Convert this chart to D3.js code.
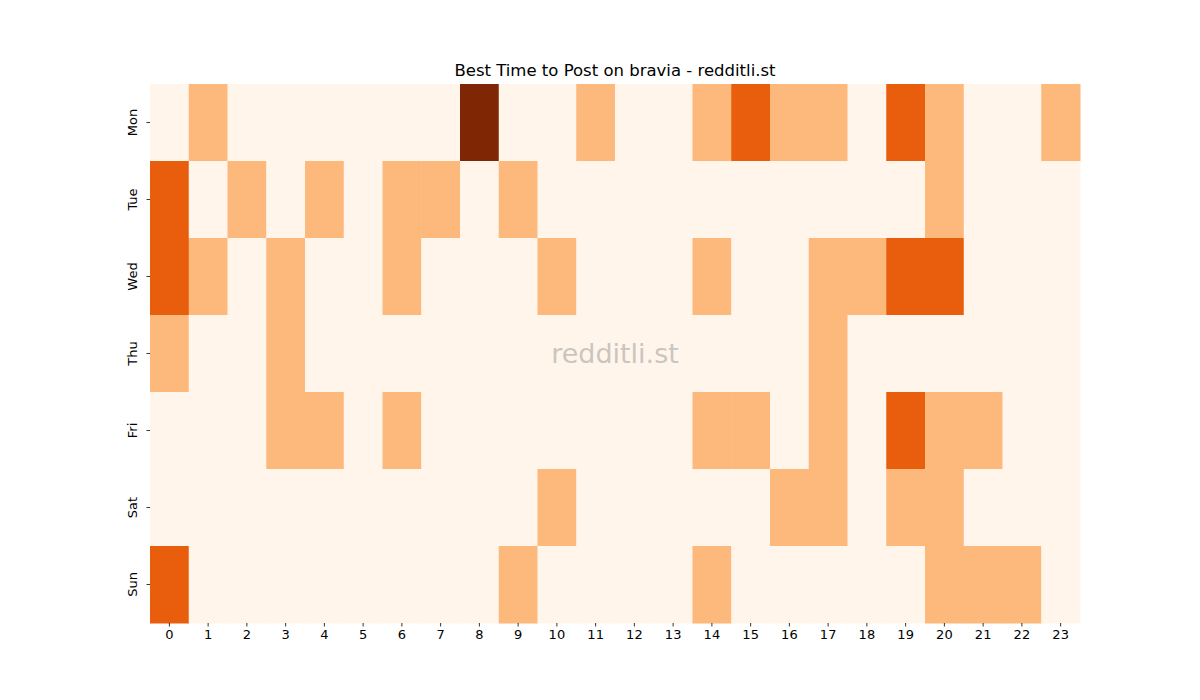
<!DOCTYPE html>
<html>
<head>
<meta charset="utf-8">
<script src="https://cdn.jsdelivr.net/npm/d3@7"></script>
<style>
  body { margin: 0; background: #fff; }
  text { font-family: "DejaVu Sans", sans-serif; }
</style>
</head>
<body>
<div id="chart"></div>
<script>
// chart data
var days = ['Mon', 'Tue', 'Wed', 'Thu', 'Fri', 'Sat', 'Sun'];
var hours = d3.range(24);
var mon = [0,1,0,0,0,0,0,0,3,0,0,1,0,0,1,2,1,1,0,2,1,0,0,1];
var tue = [2,0,1,0,1,0,1,1,0,1,0,0,0,0,0,0,0,0,0,0,1,0,0,0];
var wed = [2,1,0,1,0,0,1,0,0,0,1,0,0,0,1,0,0,1,1,2,2,0,0,0];
var thu = [1,0,0,1,0,0,0,0,0,0,0,0,0,0,0,0,0,1,0,0,0,0,0,0];
var fri = [0,0,0,1,1,0,1,0,0,0,0,0,0,0,1,1,0,1,0,2,1,1,0,0];
var sat = [0,0,0,0,0,0,0,0,0,0,1,0,0,0,0,0,1,1,0,1,1,0,0,0];
var sun = [2,0,0,0,0,0,0,0,0,1,0,0,0,0,1,0,0,0,0,0,1,1,1,0];
var counts = [mon, tue, wed, thu, fri, sat, sun];
var palette = ['#fff5eb', '#fdb87c', '#e95e0d', '#7f2704'];

var w = 1200, h = 700;
var m = {top: 84, right: 120, bottom: 77, left: 150};

var svg = d3.select('#chart').append('svg')
  .attr('width', w)
  .attr('height', h);

var x = d3.scaleBand().domain(hours).range([m.left, w - m.right]);
var y = d3.scaleBand().domain(days).range([m.top, h - m.bottom]);
var color = d3.scaleOrdinal().domain([0, 1, 2, 3]).range(palette);

// flatten into cells
var cells = [];
counts.forEach(function(row, i) {
  row.forEach(function(v, j) {
    cells.push({day: days[i], hour: hours[j], value: v});
  });
});

svg.append('g').selectAll('rect')
  .data(cells)
  .enter().append('rect')
  .attr('x', function(d) { return x(d.hour); })
  .attr('y', function(d) { return y(d.day); })
  .attr('width', x.bandwidth() + 0.5)
  .attr('height', y.bandwidth() + 0.5)
  .style('fill', function(d) { return color(d.value); });

// axes
var xAxis = svg.append('g')
  .attr('transform', 'translate(0,' + (h - m.bottom) + ')')
  .call(d3.axisBottom(x).tickSize(3.5).tickPadding(3.5));
var yAxis = svg.append('g')
  .attr('transform', 'translate(' + m.left + ',0)')
  .call(d3.axisLeft(y).tickSize(3.5).tickPadding(3.5));

svg.selectAll('.domain').remove();
svg.selectAll('.tick line').attr('stroke', '#000').attr('stroke-width', 0.8);
svg.selectAll('.tick text')
  .style('font-size', '13px')
  .style('font-family', '"DejaVu Sans", sans-serif')
  .attr('fill', '#000');
xAxis.selectAll('.tick text').attr('dy', '0.71em');

yAxis.selectAll('.tick text')
  .attr('x', null).attr('dy', null)
  .attr('text-anchor', 'middle')
  .attr('transform', 'translate(-18,0) rotate(-90)')
  .attr('dy', '0.35em');

// title
svg.append('text')
  .attr('x', (m.left + w - m.right) / 2)
  .attr('y', 76)
  .attr('text-anchor', 'middle')
  .style('font-size', '16.5px')
  .text('Best Time to Post on bravia - redditli.st');

// watermark
svg.append('text')
  .attr('x', (m.left + w - m.right) / 2)
  .attr('y', (m.top + h - m.bottom) / 2)
  .attr('text-anchor', 'middle')
  .attr('dy', '0.35em')
  .style('font-size', '27px')
  .style('fill', '#808080')
  .style('opacity', 0.4)
  .text('redditli.st');
</script>
</body>
</html>
